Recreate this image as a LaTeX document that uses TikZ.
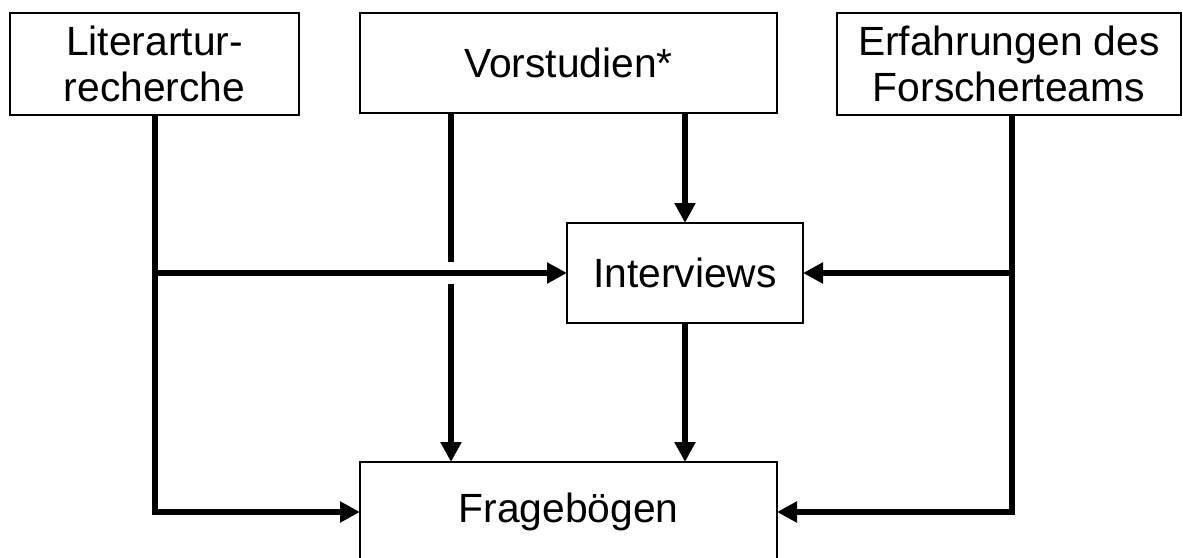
\documentclass[tikz,border=0pt]{standalone}
\usepackage{fontspec}
\setmainfont{Liberation Sans}
\usetikzlibrary{arrows.meta}
\tikzset{
  box/.style={draw=black, line width=0.75pt, fill=white, inner sep=0pt, outer sep=0pt, align=center, text=black},
  big/.style={font=\fontsize{20.4}{23}\selectfont},
  conn/.style={line width=3pt, black},
  arr/.style={conn, -{Triangle[length=10pt,width=10pt]}},
}
\begin{document}
\begin{tikzpicture}[x=0.5pt,y=-0.5pt]
\clip (0,0) rectangle (1183,557);
\fill[white] (0,0) rectangle (1183,557);
\node[box, big, minimum width=144.5pt, minimum height=51pt] (lit) at (154.5,64) {Literartur-\\recherche};
\node[box, big, minimum width=208.5pt, minimum height=50pt] (vor) at (568.5,63) {Vorstudien*};
\node[box, big, minimum width=172pt, minimum height=51pt] (erf) at (1009,64) {Erfahrungen des\\Forscherteams};
\node[box, big, minimum width=118pt, minimum height=50pt] (int) at (685,273) {Interviews};
\node[box, big, minimum width=208.5pt, minimum height=50pt] (frag) at (568.5,512) {Fragebögen};

% Literaturrecherche
\draw[arr] (lit.south) |- (frag.west);
\draw[arr] (lit.south |- int.west) -- (int.west);
% Vorstudien
\coordinate (vl) at (451,113);
\coordinate (g1) at (451,262);
\coordinate (g2) at (451,284);
\draw[conn] (vl) -- (g1);
\draw[arr] (g2) -- (g2 |- frag.north);
\draw[arr] (vor.south -| int.north) -- (int.north);
% Interviews
\draw[arr] (int.south) -- (int.south |- frag.north);
% Erfahrungen
\coordinate (es) at ([xshift=1.5pt]erf.south);
\draw[arr] (es) |- (int.east);
\draw[arr] (es) |- (frag.east);
\end{tikzpicture}
\end{document}
